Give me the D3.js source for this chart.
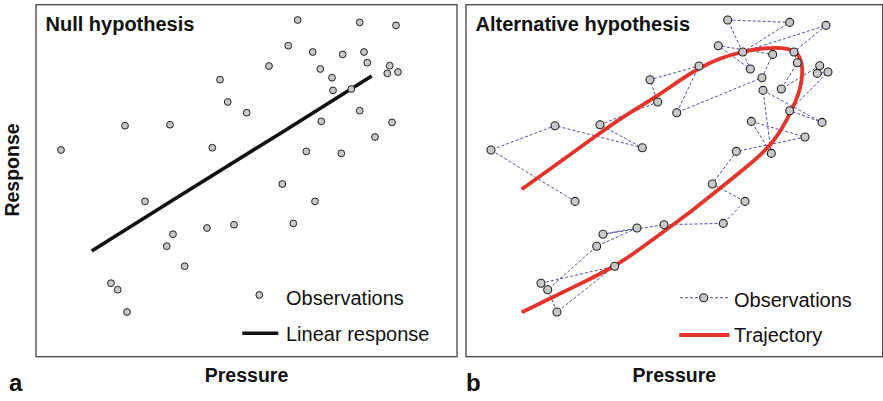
<!DOCTYPE html>
<html><head><meta charset="utf-8">
<script src="https://cdn.jsdelivr.net/npm/d3@7"></script>
<style>
html,body{margin:0;padding:0;background:#fff;}
svg{display:block;}
text{font-family:"Liberation Sans",Arial,Helvetica,sans-serif;fill:#111;}
</style></head>
<body>
<script>
// Observations in time order (pressure, response), arbitrary units
const pressure = [75,148.7,91,81.7,130.7,171,137,198,257.3,279,246.3,270.3,339,285.3,305.3,297,356,323.7,362,351.3,353.7,315.3,331.3,328,360,276.7,323.7,261.7,284.3,252.3,306.7,296,210.7,233,184,191.7,134,176.3,89,25,109];
const response = [73.5,90.5,44.7,67,110.5,128.7,122.5,132,133.3,155.3,172.7,205.3,219.7,235.3,203.3,266.3,234.3,246,284.7,283.3,291,267.7,294,304.7,331.3,304.7,334.3,336.7,287.7,311,302.3,279,244,290.7,277,254.7,232,209,231,206.7,155.3];
// Linear response (null hypothesis)
const linPressure = [55.7,137,247,335.7];
const linResponse = [105.7,156.7,225,280.7];
// Trajectory (alternative hypothesis)
const trajPressure = [55.7,94,131,161,191,214,234,254,277,297,317,329,334.5,336.7,335.7,332.3,325.7,317.3,307.3,294,280.7,254,229,204,174,149,114,82,55.7];
const trajResponse = [167.4,194.7,221.7,242.7,260.2,276.7,289.2,298.7,305.2,308.7,309.2,306.2,298.7,288.2,275,261.7,246.7,230,215,201.2,190,168.4,148.2,129.7,107.7,90.2,72.7,57.2,44.4];
const panelTitles = ["Null hypothesis","Alternative hypothesis"];
const panelLetters = ["a","b"];
const xLabel = "Pressure", yLabel = "Response";
const legendA = ["Observations","Linear response"];
const legendB = ["Observations","Trajectory"];

(function(){
const W = 883, H = 401;
const svg = d3.select("body").append("svg").attr("width",W).attr("height",H);
const yTop = 4.7, yBot = 356.7;
const panels = [{x0:36,x1:457},{x0:466,x1:882.7}];
const y = d3.scaleLinear().domain([0,352]).range([yBot,yTop]);
const obs = pressure.map((p,i)=>({p, r:response[i]}));

panels.forEach((pn,k)=>{
  const x = d3.scaleLinear().domain([0,420]).range([pn.x0,pn.x0+420]);
  const g = svg.append("g");
  g.append("rect").attr("x",pn.x0).attr("y",yTop).attr("width",pn.x1-pn.x0).attr("height",yBot-yTop)
    .attr("fill","none").attr("stroke","#444").attr("stroke-width",1.3);
  g.append("text").attr("x",pn.x0+9.5).attr("y",30.7).attr("font-size",20).attr("font-weight","bold").text(panelTitles[k]);
  g.append("text").attr("x",(pn.x0+pn.x1)/2).attr("y",382.3).attr("text-anchor","middle").attr("font-size",19.5).attr("font-weight","bold").text(xLabel);
  g.append("text").attr("x",k===0?9:466).attr("y",391).attr("font-size",24).attr("font-weight","bold").text(panelLetters[k]);
  if(k===0){
    const lin = linPressure.map((p,i)=>[x(p),y(linResponse[i])]);
    g.append("path").attr("d",d3.line().curve(d3.curveLinear)(lin)).attr("fill","none").attr("stroke","#111").attr("stroke-width",3.6).attr("stroke-linecap","butt");
    g.selectAll("circle.o").data(obs).join("circle").attr("cx",d=>x(d.p)).attr("cy",d=>y(d.r)).attr("r",3.4)
      .attr("fill","#c8c8c8").attr("stroke","#222").attr("stroke-width",1);
    g.append("circle").attr("cx",259.3).attr("cy",295).attr("r",3.4).attr("fill","#c8c8c8").attr("stroke","#222").attr("stroke-width",1);
    g.append("text").attr("x",286).attr("y",305).attr("font-size",20).text(legendA[0]);
    g.append("line").attr("x1",242.3).attr("x2",278.3).attr("y1",333.3).attr("y2",333.3).attr("stroke","#111").attr("stroke-width",3.6);
    g.append("text").attr("x",286).attr("y",340.7).attr("font-size",20).text(legendA[1]);
  } else {
    g.append("path").attr("d",d3.line().x(d=>x(d.p)).y(d=>y(d.r))(obs)).attr("fill","none")
      .attr("stroke","#3a3a9a").attr("stroke-width",0.9).attr("stroke-dasharray","3,2");
    const traj = trajPressure.map((p,i)=>[x(p),y(trajResponse[i])]);
    g.append("path").attr("d",d3.line().curve(d3.curveBasis)(traj)).attr("fill","none")
      .attr("stroke","#e5332a").attr("stroke-width",3.8).attr("stroke-linejoin","round");
    g.selectAll("circle.o").data(obs).join("circle").attr("cx",d=>x(d.p)).attr("cy",d=>y(d.r)).attr("r",4)
      .attr("fill","#c8c8c8").attr("stroke","#222").attr("stroke-width",1.1);
    g.append("line").attr("x1",680).attr("x2",728.3).attr("y1",297.7).attr("y2",297.7).attr("stroke","#3a3a9a").attr("stroke-width",0.9).attr("stroke-dasharray","3,2");
    g.append("circle").attr("cx",703.7).attr("cy",297.7).attr("r",4).attr("fill","#c8c8c8").attr("stroke","#222").attr("stroke-width",1.1);
    g.append("text").attr("x",734).attr("y",306.5).attr("font-size",20).text(legendB[0]);
    g.append("line").attr("x1",679.3).attr("x2",729.3).attr("y1",335).attr("y2",335).attr("stroke","#e5332a").attr("stroke-width",3.8);
    g.append("text").attr("x",734).attr("y",341.5).attr("font-size",20).text(legendB[1]);
  }
});
svg.append("text").attr("transform","translate(19.3,170) rotate(-90)").attr("text-anchor","middle")
  .attr("font-size",19.5).attr("font-weight","bold").text(yLabel);
})();
</script>
</body></html>
